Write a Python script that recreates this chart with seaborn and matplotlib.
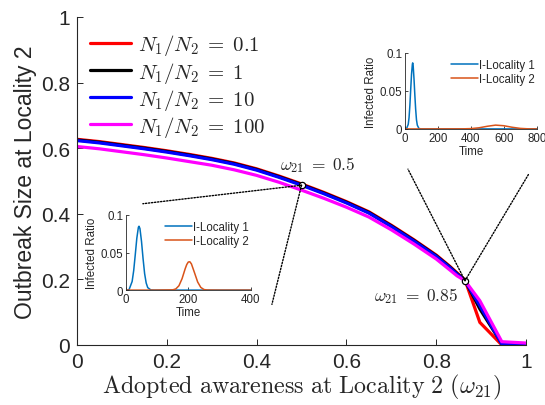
import numpy as np
import pandas as pd
import matplotlib
matplotlib.use("Agg")
import matplotlib.pyplot as plt
from matplotlib.patches import ConnectionPatch
import seaborn as sns

# ---------------- data ----------------
omega = [0, 0.05, 0.1, 0.15, 0.2, 0.25, 0.3, 0.35, 0.4, 0.45, 0.5, 0.55, 0.6, 0.65, 0.7, 0.75, 0.8,
         0.83, 0.846, 0.864, 0.897, 0.946, 1.0]
size_01 = [0.627, 0.620, 0.611, 0.602, 0.592, 0.581, 0.569, 0.555, 0.537, 0.515, 0.491, 0.465, 0.437,
           0.406, 0.365, 0.321, 0.274, 0.240, 0.220, 0.198, 0.069, 0.0, 0.0]
size_1 = [0.625, 0.618, 0.609, 0.600, 0.590, 0.579, 0.567, 0.553, 0.535, 0.513, 0.489, 0.463, 0.435,
          0.404, 0.363, 0.319, 0.272, 0.238, 0.218, 0.197, 0.110, 0.004, 0.0]
size_10 = [0.623, 0.616, 0.607, 0.598, 0.588, 0.577, 0.565, 0.551, 0.533, 0.511, 0.487, 0.461, 0.433,
           0.402, 0.361, 0.317, 0.270, 0.236, 0.216, 0.196, 0.120, 0.003, 0.0]
size_100 = [0.605, 0.598, 0.589, 0.580, 0.570, 0.559, 0.548, 0.534, 0.517, 0.496, 0.472, 0.447, 0.420,
            0.390, 0.351, 0.308, 0.262, 0.229, 0.211, 0.196, 0.135, 0.010, 0.006]
series_labels = [r"$N_1/N_2\;=\;0.1$", r"$N_1/N_2\;=\;1$", r"$N_1/N_2\;=\;10$", r"$N_1/N_2\;=\;100$"]
series_colors = ["#FF0000", "#000000", "#0000FF", "#FF00FF"]
xticks = [0, 0.2, 0.4, 0.6, 0.8, 1]
xtick_labels = ["0", "0.2", "0.4", "0.6", "0.8", "1"]
yticks = [0, 0.2, 0.4, 0.6, 0.8, 1]
ytick_labels = ["0", "0.2", "0.4", "0.6", "0.8", "1"]
marked_omega = [0.5, 0.864]
marked_text = [r"$\omega_{21}\;=\;0.5$", r"$\omega_{21}\;=\;0.85$"]

# inset (omega = 0.5): time series
t_a = [0, 10, 20, 25, 30, 35, 40, 42, 45, 50, 55, 60, 65, 70, 80, 90, 150, 160, 170, 180, 190, 195, 200, 205,
       210, 220, 230, 240, 250, 260, 300, 400]
i1_a = [0, 0.0005, 0.0115, 0.026, 0.047, 0.069, 0.0836, 0.085, 0.082, 0.065, 0.042, 0.022, 0.0095, 0.0033,
        0.0002, 0, 0, 0, 0, 0, 0, 0, 0, 0, 0, 0, 0, 0, 0, 0, 0, 0]
i2_a = [0, 0, 0, 0, 0, 0, 0, 0, 0, 0, 0, 0, 0, 0, 0, 0, 0.0003, 0.0016, 0.0058, 0.0152, 0.0284, 0.034, 0.0374,
        0.0377, 0.0349, 0.023, 0.0108, 0.0036, 0.0008, 0.0001, 0, 0]
# inset (omega = 0.85)
t_b = [0, 10, 20, 25, 30, 35, 40, 45, 47, 50, 55, 60, 65, 70, 75, 85, 100, 350, 400, 450, 500, 550, 600, 650,
       700, 750, 800]
i1_b = [0, 0.0005, 0.006, 0.015, 0.031, 0.052, 0.072, 0.085, 0.087, 0.083, 0.066, 0.045, 0.026, 0.012, 0.005,
        0.0005, 0, 0, 0, 0, 0, 0, 0, 0, 0, 0, 0]
i2_b = [0, 0, 0, 0, 0, 0, 0, 0, 0, 0, 0, 0, 0, 0, 0, 0, 0, 0.0001, 0.0004, 0.0015, 0.0035, 0.005, 0.0042,
        0.0022, 0.0007, 0.0001, 0]
inset_labels = ["I-Locality 1", "I-Locality 2"]
inset_colors = ["#0072BD", "#D95319"]

# ---------------- style ----------------
sns.set_style("ticks")
plt.rcParams["font.family"] = ["Liberation Sans", "DejaVu Sans"]
plt.rcParams["mathtext.fontset"] = "cm"
axc = "#262626"

fig = plt.figure(figsize=(5.45, 4.06), dpi=100)
ax = fig.add_axes([0.1413, 0.1478, 0.824, 0.808])

df = pd.DataFrame({
    "omega": omega * 4,
    "size": size_01 + size_1 + size_10 + size_100,
    "series": sum([[lab] * len(omega) for lab in series_labels], []),
})
sns.lineplot(data=df, x="omega", y="size", hue="series", hue_order=series_labels,
             palette=series_colors, linewidth=2.3, ax=ax, legend=False, sort=False)
for line, lab in zip(ax.lines, series_labels):
    line.set_label(lab)
    line.set_solid_joinstyle("miter")

ax.set_xlim(0, 1)
ax.set_ylim(0, 1)
ax.set_xticks(xticks)
ax.set_xticklabels(xtick_labels)
ax.set_yticks(yticks)
ax.set_yticklabels(ytick_labels)
ax.tick_params(direction="in", length=4, width=0.7, labelsize=15, colors=axc, pad=5)
for s in ["top", "right"]:
    ax.spines[s].set_visible(False)
for s in ["left", "bottom"]:
    ax.spines[s].set_color(axc)
    ax.spines[s].set_linewidth(0.8)
ax.set_xlabel(r"$\mathrm{Adopted\ awareness\ at\ Locality\ 2\ (}\omega_{21}\mathrm{)}$", fontsize=17.3,
              color=axc, labelpad=1)
ax.set_ylabel("Outbreak Size at Locality 2", fontsize=16.5, color=axc, labelpad=3)

ax.legend(handles=ax.lines[:4], loc="upper left", bbox_to_anchor=(0.01, 0.978), frameon=False,
          fontsize=15, handlelength=2.0, handletextpad=0.3, labelspacing=0.1, borderaxespad=0)

# markers on the curve
marked_y = [float(np.interp(w, omega, size_10)) for w in marked_omega]
ax.plot(marked_omega, marked_y, linestyle="none", marker="o", markersize=4.5, markerfacecolor="white",
        markeredgecolor="black", markeredgewidth=0.9, zorder=5)
ax.text(marked_omega[0] + 0.035, marked_y[0] + 0.065, marked_text[0], fontsize=12.5, ha="center", va="center")
ax.text(marked_omega[1] - 0.11, marked_y[1] - 0.044, marked_text[1], fontsize=12.5, ha="center", va="center")


def make_inset(rect, t, i1, i2, xmax, xt):
    ins = fig.add_axes(rect)
    d = pd.DataFrame({"t": t * 2, "I": i1 + i2,
                      "s": [inset_labels[0]] * len(t) + [inset_labels[1]] * len(t)})
    sns.lineplot(data=d, x="t", y="I", hue="s", hue_order=inset_labels, palette=inset_colors,
                 linewidth=1.1, ax=ins, legend=False, sort=False)
    for line, lab in zip(ins.lines, inset_labels):
        line.set_label(lab)
    ins.set_xlim(0, xmax)
    ins.set_ylim(0, 0.1)
    ins.set_xticks(xt)
    ins.set_xticklabels([str(v) for v in xt])
    ins.set_yticks([0, 0.05, 0.1])
    ins.set_yticklabels(["0", "0.05", "0.1"])
    ins.tick_params(direction="in", length=2, width=0.6, labelsize=8.3, colors=axc, pad=2)
    for s in ["top", "right"]:
        ins.spines[s].set_visible(False)
    for s in ["left", "bottom"]:
        ins.spines[s].set_color(axc)
        ins.spines[s].set_linewidth(0.6)
    ins.set_xlabel("Time", fontsize=8.3, color=axc, labelpad=1)
    ins.set_ylabel("Infected Ratio", fontsize=8.3, color=axc, labelpad=2)
    ins.legend(handles=ins.lines[:2], loc="upper right", bbox_to_anchor=(1.02, 0.98), frameon=False,
               fontsize=8.3, handlelength=2.3, handletextpad=0.1, labelspacing=0.15, borderaxespad=0)
    ins.patch.set_alpha(0)
    return ins


ins_a = make_inset([0.231, 0.283, 0.229, 0.185], t_a, i1_a, i2_a, 400, [0, 200, 400])
ins_b = make_inset([0.743, 0.680, 0.242, 0.187], t_b, i1_b, i2_b, 800, [0, 200, 400, 600, 800])

# dotted connector lines
for ins, w, yv, ends in [(ins_a, marked_omega[0], marked_y[0], [(0.136, 1.15), (1.17, -0.19)]),
                         (ins_b, marked_omega[1], marked_y[1], [(0.023, -0.53), (0.94, -0.59)])]:
    for e in ends:
        cp = ConnectionPatch(xyA=(w, yv), coordsA=ax.transData, xyB=e, coordsB=ins.transAxes,
                             linestyle=(0, (1, 1.2)), color="black", linewidth=1.0, zorder=4)
        fig.add_artist(cp)

fig.savefig("out.png", dpi=100)
